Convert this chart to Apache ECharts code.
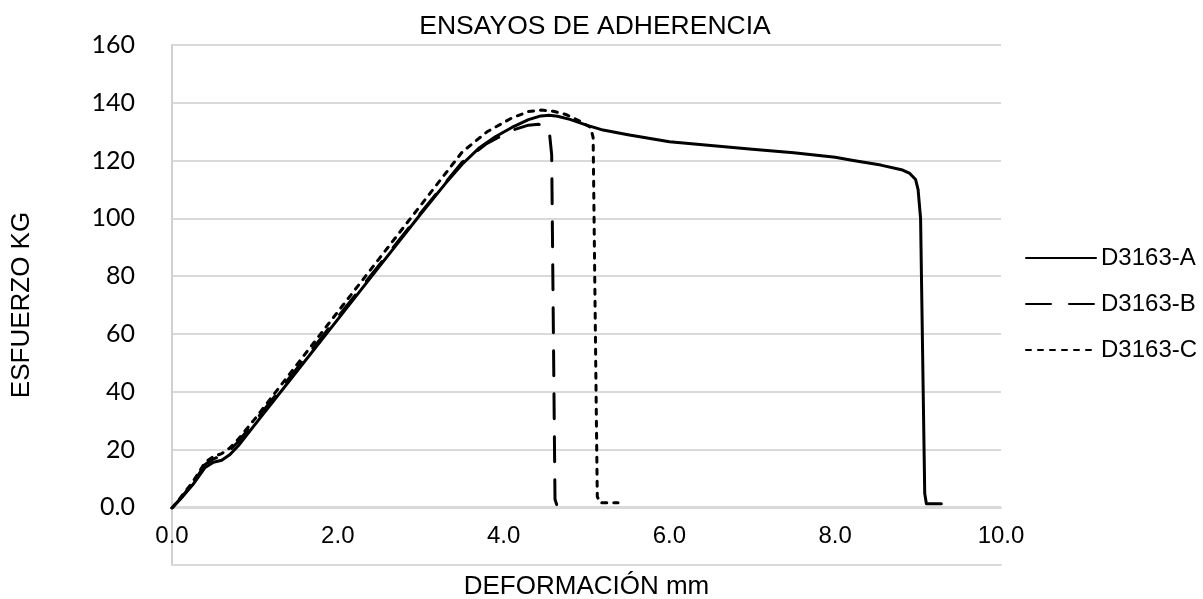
<!DOCTYPE html>
<html>
<head>
<meta charset="utf-8">
<script src="https://cdn.jsdelivr.net/npm/echarts@6/dist/echarts.min.js"></script>
<style>html,body{margin:0;padding:0;background:#fff}#c{width:1203px;height:599px}</style>
</head>
<body>
<div id="c"></div>
<script>
const titleText = 'ENSAYOS DE ADHERENCIA';
const xName = 'DEFORMACIÓN mm';
const yName = 'ESFUERZO KG';
const seriesNames = ['D3163-A', 'D3163-B', 'D3163-C'];

const dataA = [[0,0],[0.1,3],[0.25,8],[0.4,14],[0.5,15.8],[0.6,16.5],[0.7,18.5],[0.8,21.5],[1.0,28.8],[1.5,47],[2.0,65.2],[2.5,83.4],[3.0,101.6],[3.3,112.2],[3.5,118.8],[3.7,124.3],[3.9,128.3],[4.1,131.5],[4.3,134.2],[4.45,135.5],[4.55,135.7],[4.65,135.4],[4.8,134.3],[5.0,132.3],[5.2,130.6],[5.5,129],[6.0,126.6],[6.5,125.3],[7.0,124],[7.5,122.8],[8.0,121.2],[8.2,120.2],[8.55,118.5],[8.8,116.9],[8.9,115.6],[8.97,113.5],[9.0,110],[9.03,100],[9.08,5],[9.1,1.5],[9.28,1.5]];
const dataB = [[0,0],[0.1,3.2],[0.25,8.5],[0.4,15],[0.5,17],[0.6,18],[0.7,20],[0.8,23],[1.0,30],[1.5,48],[2.0,66],[2.5,84],[3.0,102],[3.5,119.5],[3.8,126],[4.1,130.5],[4.3,132.3],[4.42,132.6],[4.5,132.2],[4.55,130.5],[4.58,122],[4.62,3],[4.64,1.2],[4.75,1.2]];
const dataC = [[0,0],[0.1,3.5],[0.25,9],[0.4,15.8],[0.5,17.8],[0.6,18.8],[0.7,20.8],[0.8,23.8],[1.0,30.8],[1.5,49.3],[2.0,67.8],[2.5,86.2],[3.0,104.6],[3.5,123],[3.8,130],[4.1,134.8],[4.3,137],[4.45,137.5],[4.6,137.1],[4.75,136],[4.9,134],[5.05,131.5],[5.08,128],[5.13,4],[5.16,1.8],[5.38,1.8]];

const xTicks = {min: 0, max: 10, interval: 2};
const yTicks = {min: -20, max: 160, interval: 20};
const yPlot = {min: 0, max: 160, interval: 20};

const chart = echarts.init(document.getElementById('c'), null, {renderer: 'canvas'});
const lineBase = {type: 'line', symbol: 'none', showSymbol: false, smooth: false, animation: false, xAxisIndex: 1, yAxisIndex: 1};
const labelFont = {fontFamily: 'Liberation Sans', color: '#000'};
chart.setOption({
  animation: false,
  backgroundColor: '#fff',
  title: {
    text: titleText, left: 590, top: 8, textAlign: 'center',
    textStyle: Object.assign({fontSize: 26.5, fontWeight: 'normal'}, labelFont)
  },
  legend: {
    orient: 'vertical', left: 1020, top: 241,
    itemWidth: 70, itemHeight: 14, itemGap: 22,
    data: seriesNames,
    itemStyle: {opacity: 0},
    textStyle: Object.assign({fontSize: 24, lineHeight: 24}, labelFont)
  },
  grid: [
    {left: 172, right: 202, top: 45, bottom: 34, containLabel: false, outerBoundsMode: 'none'},
    {left: 172, right: 202, top: 45, bottom: 91, containLabel: false, outerBoundsMode: 'none'}
  ],
  xAxis: [
    {
      gridIndex: 0, type: 'value', min: xTicks.min, max: xTicks.max, interval: xTicks.interval,
      axisLine: {show: true, onZero: false, lineStyle: {color: '#d9d9d9', width: 2}},
      axisTick: {show: false}, splitLine: {show: false}, axisLabel: {show: false}
    },
    {
      gridIndex: 1, type: 'value', min: xTicks.min, max: xTicks.max, interval: xTicks.interval,
      name: xName, nameLocation: 'middle', nameGap: 66,
      nameTextStyle: Object.assign({fontSize: 26}, labelFont),
      axisLine: {show: true, onZero: false, lineStyle: {color: '#d9d9d9', width: 2}},
      axisTick: {show: false},
      splitLine: {show: false},
      axisLabel: Object.assign({fontSize: 24, margin: 16, formatter: v => v.toFixed(1)}, labelFont)
    }
  ],
  yAxis: [
    {
      gridIndex: 0, type: 'value', min: yTicks.min, max: yTicks.max, interval: yTicks.interval,
      name: yName, nameLocation: 'middle', nameGap: 137, nameRotate: 90,
      nameTextStyle: Object.assign({fontSize: 26}, labelFont),
      axisLine: {show: true, onZero: false, lineStyle: {color: '#d0d0d0', width: 2}},
      axisTick: {show: false},
      splitLine: {show: true, lineStyle: {color: '#d9d9d9', width: 2}},
      axisLabel: {fontFamily: 'Lato', fontSize: 25, color: '#000', margin: 37,
        formatter: v => v < 0 ? '' : (v === 0 ? '0.0' : String(v))}
    },
    {
      gridIndex: 1, type: 'value', min: yPlot.min, max: yPlot.max, interval: yPlot.interval,
      axisLine: {show: false}, axisTick: {show: false}, splitLine: {show: false}, axisLabel: {show: false}
    }
  ],
  series: [
    Object.assign({}, lineBase, {name: seriesNames[0], data: dataA,
      lineStyle: {color: '#000', width: 3, type: 'solid', cap: 'round', join: 'round'},
      itemStyle: {color: '#000'}}),
    Object.assign({}, lineBase, {name: seriesNames[1], data: dataB,
      lineStyle: {color: '#000', width: 3, type: [25, 18], cap: 'round', join: 'round'},
      itemStyle: {color: '#000'}}),
    Object.assign({}, lineBase, {name: seriesNames[2], data: dataC,
      lineStyle: {color: '#000', width: 3, type: [5, 7], cap: 'round', join: 'round'},
      itemStyle: {color: '#000'}})
  ]
});
</script>
</body>
</html>
